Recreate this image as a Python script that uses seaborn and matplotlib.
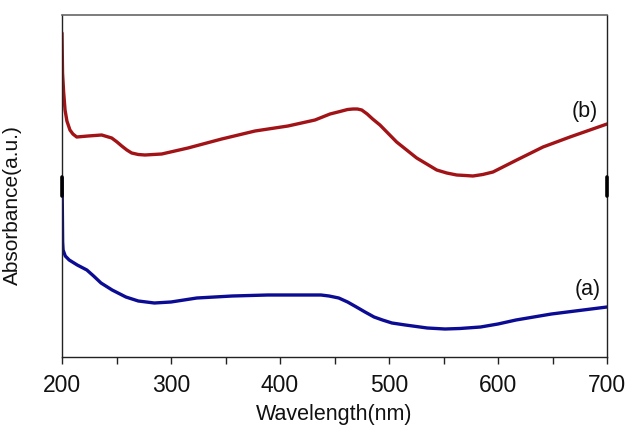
import matplotlib
matplotlib.use("Agg")
import matplotlib.pyplot as plt
import seaborn as sns
import pandas as pd
from matplotlib.ticker import MultipleLocator

# UV-Vis absorption spectra (arbitrary units, curve (b) offset above curve (a))
wavelength_b = [200.0, 200.5, 201.5, 202.8, 204.5, 207.3, 210.0, 213.5, 223.9, 236.4,
                245.6, 250.5, 254.8, 259.5, 263.9, 270.0, 276.1, 291.5, 315.6, 346.5,
                377.1, 407.3, 432.1, 445.9, 455.0, 462.0, 467.0, 471.0, 475.0, 480.0,
                485.0, 491.7, 507.0, 525.4, 543.8, 553.0, 562.1, 570.0, 577.0, 586.0,
                595.4, 617.2, 641.3, 666.0, 700.0]
absorb_b = [324, 284, 265, 247, 236, 227, 223, 220, 221, 222,
            219, 215, 211, 207, 204, 202.5, 202, 203, 209, 218,
            226, 231, 237, 243, 245.5, 247.5, 248, 248, 247, 243,
            238, 232, 215, 199, 187, 184, 182, 181.5, 181, 182.5,
            185, 197, 210, 220, 233]

wavelength_a = [200.0, 200.3, 200.6, 201.0, 203.0, 206.6, 214.0, 222.8, 229.0, 235.8,
                246.0, 258.6, 270.0, 284.7, 300.0, 323.7, 340.0, 356.2, 388.8, 420.0,
                437.6, 445.0, 453.9, 462.0, 470.1, 478.0, 486.3, 494.0, 502.7, 515.0,
                535.1, 551.4, 565.0, 584.0, 600.0, 616.5, 649.0, 700.0]
absorb_a = [179, 150, 115, 107, 101, 97, 92, 87, 81, 74,
            67, 60, 56, 54, 55, 59, 60, 61, 62, 62,
            62, 61, 59, 55, 50, 45, 40, 37, 34, 32,
            29, 28, 28.5, 30, 33, 37, 43, 50]

curve_labels = ["(a)", "(b)"]
label_x = [682.6, 680.0]
label_y = [67, 245]

sns.set_style("ticks")
plt.rcParams["font.family"] = ["Liberation Sans", "DejaVu Sans"]

fig = plt.figure(figsize=(6.26, 4.28), dpi=100)
ax = fig.add_axes([62 / 626, 1 - 357 / 428, (607 - 62) / 626, (357 - 15) / 428])

df_a = pd.DataFrame({"Wavelength": wavelength_a, "Absorbance": absorb_a})
df_b = pd.DataFrame({"Wavelength": wavelength_b, "Absorbance": absorb_b})
sns.lineplot(data=df_b, x="Wavelength", y="Absorbance", ax=ax, color="#A11316",
             linewidth=2.4, sort=False, estimator=None)
sns.lineplot(data=df_a, x="Wavelength", y="Absorbance", ax=ax, color="#0B0B94",
             linewidth=2.4, sort=False, estimator=None)

for t, x, y in zip(curve_labels, label_x, label_y):
    ax.text(x, y, t, ha="center", va="center", fontsize=15.5, color="#111111")

ax.set_xlim(200, 700)
ax.set_ylim(0, 342)
ax.set_yticks([])
ax.xaxis.set_major_locator(MultipleLocator(100))
ax.xaxis.set_minor_locator(MultipleLocator(50))
ax.tick_params(axis="x", which="both", direction="out", length=5, width=1,
               colors="#222222", labelsize=16.5, pad=7)
ax.tick_params(axis="x", labelcolor="#111111")

for side in ["left", "right", "bottom"]:
    ax.spines[side].set_visible(True)
    ax.spines[side].set_color("#222222")
    ax.spines[side].set_linewidth(1.0)
ax.spines["top"].set_visible(True)
ax.spines["top"].set_color("#666666")
ax.spines["top"].set_linewidth(1.2)

# short bold segments on the side frames (axis break marks)
for xb in (200, 700):
    ax.axvline(xb, ymin=(357 - 196) / 342, ymax=(357 - 177) / 342, color="black",
               linewidth=2.6, clip_on=False, zorder=5)

ax.set_xlabel("Wavelength(nm)", fontsize=15.5, color="#111111", labelpad=5)
ax.set_ylabel("Absorbance(a.u.)", fontsize=15, color="#111111")
ax.yaxis.set_label_coords(-0.073, (357 - 205) / 342)

fig.savefig("out.png", dpi=100, facecolor="white")
